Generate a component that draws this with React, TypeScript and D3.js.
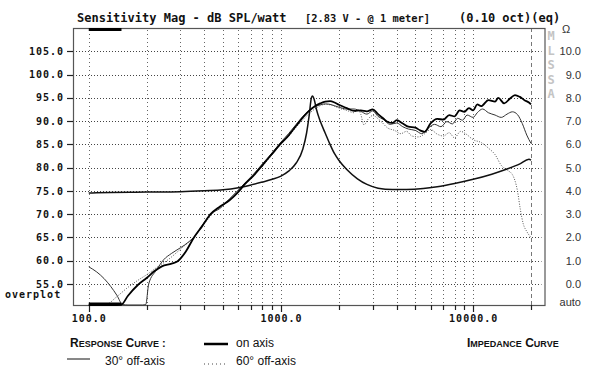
import React from 'react';
import * as d3 from 'd3';

const W = 601;
const H = 382;

const dbTicks = [55, 60, 65, 70, 75, 80, 85, 90, 95, 100, 105];
const ohmTicks = [0, 1, 2, 3, 4, 5, 6, 7, 8, 9, 10];
const gridFreqs = [100, 200, 300, 400, 500, 600, 700, 800, 900, 1000, 2000, 3000, 4000, 5000, 6000, 7000, 8000, 9000, 10000];
const labelFreqs = [100, 1000, 10000];
const freqLabels = ['100.0', '1000.0', '10000.0'];
const markerFreq = 20000;
const overplotBand = [100, 148];
const mlssaLetters = ['M', 'L', 'S', 'S', 'A'];

const onAxis: [number, number][] = [
  [100, 45], [140, 45], [148, 50.6], [160, 52.5], [180, 54.8], [200, 56.3], [220, 57.8], [240, 58.8], [270, 59.4], [290, 59.9],
  [320, 62], [350, 64.8], [390, 67.5], [430, 70], [480, 71.6], [540, 73], [600, 74.8], [650, 76.5], [720, 78.3], [800, 80.5],
  [900, 83], [1000, 85.2], [1100, 87], [1200, 89], [1300, 90.8], [1400, 92.2], [1500, 93.2], [1600, 93.8], [1700, 94.2], [1800, 94.3],
  [1900, 94], [2000, 93.5], [2200, 92.8], [2400, 92.2], [2600, 92.3], [2800, 92.1], [3000, 92.5], [3200, 91.5], [3400, 90.6], [3600, 89.8],
  [3800, 89.6], [4000, 90.2], [4300, 89.5], [4600, 88.8], [5000, 88.6], [5300, 88], [5600, 87.7], [6000, 89.5], [6500, 90.5], [7000, 90.3],
  [7500, 91.3], [8000, 91], [8500, 92.3], [9000, 92], [9500, 92.8], [10000, 92.3], [10500, 93.6], [11000, 93.2], [12000, 94.5], [13000, 94.2],
  [13500, 95], [14500, 93.8], [15500, 94.8], [16500, 95.6], [17500, 95.2], [18500, 94.5], [19500, 94], [20000, 93.6],
];

const offAxis30: [number, number][] = [
  [100, 58.7], [110, 57.6], [120, 56.2], [130, 54.5], [140, 52.6], [150, 50.6], [160, 48.5], [190, 48], [198, 50.6], [205, 55],
  [225, 58], [245, 60.2], [270, 61.6], [300, 62.8], [330, 64], [360, 65.5], [400, 68.3], [440, 70.3], [480, 71.2], [540, 73.3],
  [600, 75.2], [660, 77], [720, 78.6], [800, 80.8], [900, 83.2], [1000, 85.5], [1100, 87.4], [1200, 89.3], [1300, 91], [1400, 92.3],
  [1500, 93.1], [1600, 93.5], [1700, 93.7], [1800, 93.6], [1900, 93.3], [2000, 93], [2200, 92.6], [2400, 92.6], [2600, 92.1], [2800, 91.5],
  [3000, 92.2], [3200, 91], [3400, 90.4], [3700, 89.3], [4000, 89.6], [4300, 88.8], [4600, 88.3], [5000, 88], [5400, 87.3], [5800, 88.4],
  [6300, 89.3], [6800, 88.8], [7300, 89.9], [7800, 89.4], [8300, 90.6], [8800, 90.2], [9300, 91.3], [10000, 90.8], [10500, 91.8], [11200, 92.6],
  [12000, 91.8], [13000, 91.3], [14000, 90.8], [15000, 91.5], [16000, 92], [17000, 91.4], [18000, 89.5], [19000, 87], [20000, 85.2],
];

const offAxis60: [number, number][] = [
  [110, 48], [123, 50.6], [140, 52.3], [160, 54.3], [180, 55.8], [200, 57], [230, 58.8], [260, 60.3], [300, 62.5], [350, 65],
  [400, 68], [450, 70.5], [500, 72], [560, 73.6], [620, 75.5], [700, 77.8], [800, 80.3], [900, 82.8], [1000, 85], [1100, 86.8],
  [1200, 88.7], [1300, 90.3], [1400, 91.6], [1500, 92.6], [1600, 93.3], [1700, 93.6], [1800, 93.5], [1900, 93.2], [2000, 92.8], [2200, 92.3],
  [2400, 91.8], [2500, 92.6], [2600, 91.5], [2700, 89.2], [2850, 90.5], [3000, 91.2], [3300, 90], [3600, 88.5], [3900, 88], [4200, 87.3],
  [4500, 87.8], [4800, 86.8], [5200, 86.6], [5600, 87.3], [6000, 88.2], [6500, 87.2], [7000, 86.8], [7500, 87.5], [8000, 86.4], [8600, 87.8],
  [9200, 87.2], [10000, 86], [11000, 85.4], [12000, 84.2], [13000, 82.8], [14000, 80.5], [15000, 79.5], [16000, 78.5], [17000, 75],
  [17600, 71], [18200, 68], [19000, 66.3], [20000, 65],
];

const impedance: [number, number][] = [
  [100, 74.55], [110, 74.6], [200, 74.75], [300, 74.85], [400, 75.05], [500, 75.25], [600, 75.7], [700, 76.3], [800, 76.9], [900, 77.5],
  [1000, 78.2], [1100, 79.3], [1200, 81], [1300, 84], [1360, 87.5], [1400, 91], [1440, 95], [1460, 95.4], [1490, 94.6], [1530, 92.5],
  [1600, 90], [1700, 87.4], [1800, 85], [1900, 83], [2000, 81.6], [2200, 79.6], [2500, 77.6], [2800, 76.4], [3200, 75.6], [3800, 75.3],
  [4500, 75.3], [5500, 75.5], [6500, 75.9], [8000, 76.6], [10000, 77.5], [12500, 78.6], [15000, 79.7], [17500, 80.8], [19500, 81.8], [20000, 81.6],
];

export default function App() {
  const left = 73, right = 544.5, top = 28, bottom = 305;
  const x = d3.scaleLog().domain([82.8, 23500]).range([left, right]);
  const y = d3.scaleLinear().domain([50.5, 110]).range([bottom, top]).clamp(true);
  const ohmToDb = (o: number) => 55 + 5 * o;
  const line = d3.line<[number, number]>().x(d => x(d[0])).y(d => y(d[1])).curve(d3.curveMonotoneX);
  const mono = "'DejaVu Sans Mono', 'Liberation Mono', monospace";
  const sans = "'Liberation Sans', Arial, sans-serif";

  const smallCaps = (words: string[], tx: number, ty: number, extra?: string) => (
    <text x={tx} y={ty} fontFamily={sans} fontWeight="bold" fill="#111">
      {words.map((w, i) => (
        <React.Fragment key={i}>
          <tspan fontSize={12}>{(i > 0 ? ' ' : '') + w[0]}</tspan>
          <tspan fontSize={9}>{w.slice(1).toUpperCase()}</tspan>
        </React.Fragment>
      ))}
      {extra ? <tspan fontSize={11}>{extra}</tspan> : null}
    </text>
  );

  return (
    <svg width={W} height={H} style={{ position: 'absolute', left: 0, top: 0, background: '#fff' }}>
      {/* title */}
      <text x={77} y={22} fontFamily={mono} fontWeight="bold" fontSize={12} fill="#111">Sensitivity Mag - dB SPL/watt</text>
      <text x={305} y={22} fontFamily={mono} fontWeight="bold" fontSize={10.4} fill="#111">[2.83 V - @ 1 meter]</text>
      <text x={459} y={22} fontFamily={mono} fontWeight="bold" fontSize={12} fill="#111">(0.10 oct)(eq)</text>

      {/* horizontal grid */}
      {dbTicks.map(v => (
        <line key={'h' + v} x1={left + 3} x2={right - 3} y1={Math.round(y(v)) + 0.5} y2={Math.round(y(v)) + 0.5}
          stroke="#444" strokeWidth={1} strokeDasharray="1 2" />
      ))}
      {/* vertical grid */}
      {gridFreqs.map(f => (
        <line key={'v' + f} x1={Math.round(x(f)) + 0.5} x2={Math.round(x(f)) + 0.5} y1={top + 2} y2={bottom}
          stroke="#666" strokeWidth={1} strokeDasharray="1 3" />
      ))}
      <line x1={Math.round(x(markerFreq)) + 0.5} x2={Math.round(x(markerFreq)) + 0.5} y1={top} y2={bottom}
        stroke="#777" strokeWidth={1} strokeDasharray="4 3" />

      {/* frame */}
      <rect x={left + 0.5} y={top + 0.5} width={right - left} height={bottom - top} fill="none" stroke="#555" strokeWidth={1.2} />

      {/* left ticks & labels */}
      {dbTicks.map(v => (
        <g key={'l' + v}>
          <line x1={left - 6} x2={left} y1={Math.round(y(v)) + 0.5} y2={Math.round(y(v)) + 0.5} stroke="#222" strokeWidth={1.2} />
          <text x={64} y={y(v) + 3.6} textAnchor="end" fontFamily={mono} fontWeight="bold" fontSize={10} letterSpacing={1} fill="#111">
            {v.toFixed(1)}
          </text>
        </g>
      ))}
      <text x={5} y={298} fontFamily={mono} fontWeight="bold" fontSize={10} letterSpacing={1} fill="#111">overplot</text>

      {/* right axis */}
      <text x={562} y={33} fontFamily={sans} fontSize={11} fill="#333">Ω</text>
      {ohmTicks.map(o => (
        <text key={'r' + o} x={581} y={y(ohmToDb(o)) + 4} textAnchor="end" fontFamily={sans} fontSize={11} fill="#333">
          {o.toFixed(1)}
        </text>
      ))}
      <text x={581} y={306} textAnchor="end" fontFamily={sans} fontSize={11} fill="#333">auto</text>
      {mlssaLetters.map((c, i) => (
        <text key={'m' + i} x={551} y={40 + i * 14.6} textAnchor="middle" fontFamily={mono} fontWeight="bold" fontSize={12} fill="#c4c4c4">{c}</text>
      ))}

      {/* bottom ticks & labels */}
      {gridFreqs.map(f => (
        <line key={'t' + f} x1={Math.round(x(f)) + 0.5} x2={Math.round(x(f)) + 0.5} y1={bottom}
          y2={labelFreqs.includes(f) ? bottom + 7 : bottom + 5} stroke="#222" strokeWidth={1.2} />
      ))}
      <line x1={Math.round(x(markerFreq)) + 0.5} x2={Math.round(x(markerFreq)) + 0.5} y1={bottom} y2={bottom + 5} stroke="#222" strokeWidth={1.2} />
      {labelFreqs.map((f, i) => (
        <text key={'xl' + f} x={x(f) + 0.5} y={322} textAnchor="middle" fontFamily={mono} fontWeight="bold" fontSize={10} letterSpacing={1} fill="#111">
          {freqLabels[i]}
        </text>
      ))}

      {/* overplot marker bar at top */}
      <rect x={x(overplotBand[0])} y={top} width={x(overplotBand[1]) - x(overplotBand[0])} height={3} fill="#000" />

      {/* curves */}
      <path d={line(offAxis60) || ''} fill="none" stroke="#555" strokeWidth={1} strokeDasharray="1 1.5" />
      <path d={line(offAxis30) || ''} fill="none" stroke="#333" strokeWidth={1} />
      <path d={line(impedance) || ''} fill="none" stroke="#111" strokeWidth={1.5} />
      <path d={line(onAxis) || ''} fill="none" stroke="#000" strokeWidth={1.8} />
      <line x1={x(overplotBand[0])} x2={x(overplotBand[1])} y1={bottom - 1} y2={bottom - 1} stroke="#000" strokeWidth={3} />

      {/* legend */}
      {smallCaps(['Response', 'Curve'], 70, 347, ' :')}
      <line x1={204} x2={228} y1={344} y2={344} stroke="#000" strokeWidth={2.5} />
      <text x={236} y={347} fontFamily={sans} fontSize={12} fill="#111">on axis</text>
      <line x1={67} x2={90} y1={359} y2={359} stroke="#111" strokeWidth={1} />
      <text x={105} y={365} fontFamily={sans} fontSize={12} fill="#111">30° off-axis</text>
      <line x1={204} x2={228} y1={364} y2={364} stroke="#444" strokeWidth={1} strokeDasharray="1 3" />
      <text x={236} y={365} fontFamily={sans} fontSize={12} fill="#111">60° off-axis</text>
      {smallCaps(['Impedance', 'Curve'], 467, 347)}
    </svg>
  );
}
